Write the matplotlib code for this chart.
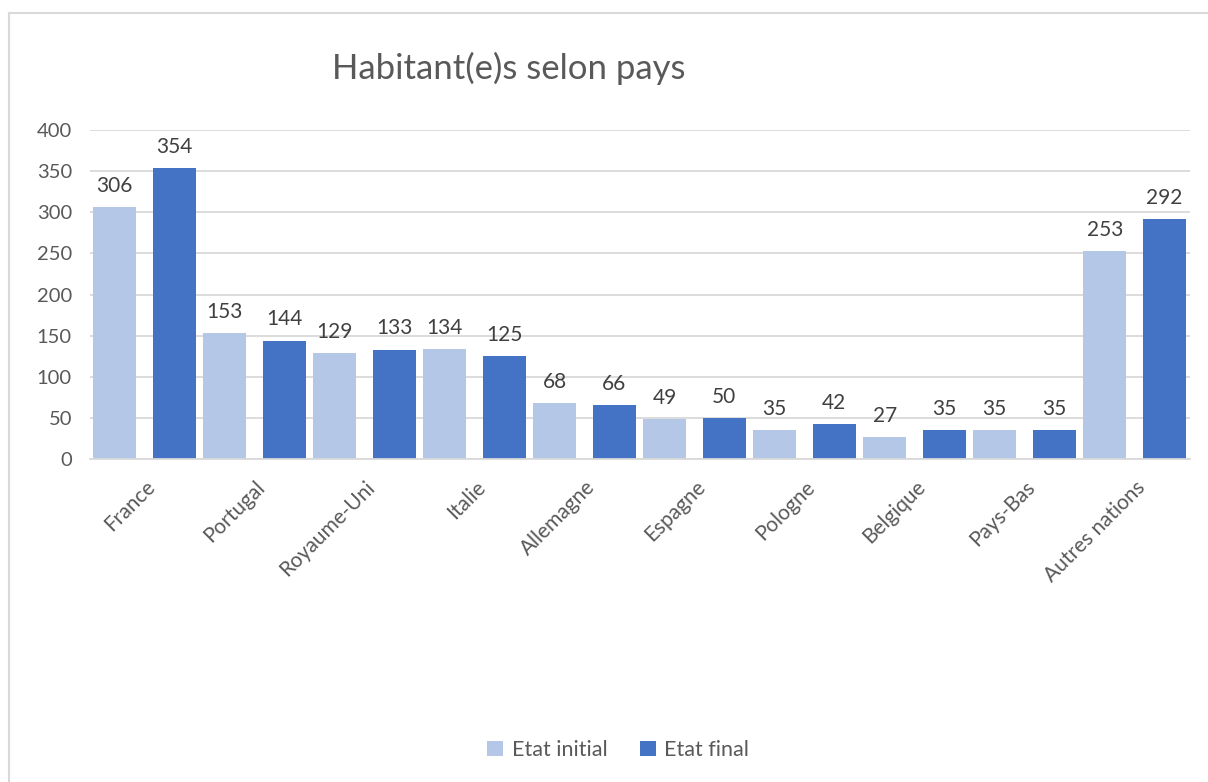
import matplotlib

matplotlib.use("Agg")
import matplotlib.pyplot as plt
from matplotlib.lines import Line2D
import numpy as np

countries = ["France", "Portugal", "Royaume-Uni", "Italie", "Allemagne",
             "Espagne", "Pologne", "Belgique", "Pays-Bas", "Autres nations"]
etat_initial = [306, 153, 129, 134, 68, 49, 35, 27, 35, 253]
etat_final = [354, 144, 133, 125, 66, 50, 42, 35, 35, 292]
y_ticks = [0, 50, 100, 150, 200, 250, 300, 350, 400]

C_INIT = "#b4c7e7"
C_FINAL = "#4472c4"
GRID = "#d9d9d9"
TXT = "#595959"

plt.rcParams["font.family"] = ["Lato", "DejaVu Sans"]

W, H = 1208, 782
fig = plt.figure(figsize=(W / 100, H / 100), dpi=100)
ax = fig.add_axes([90 / W, 1 - 459 / H, 1100 / W, 329 / H])

x = np.arange(len(countries))
width = 0.39
b1 = ax.bar(x - 0.275, etat_initial, width, color=C_INIT, label="Etat initial", zorder=2)
b2 = ax.bar(x + 0.265, etat_final, width, color=C_FINAL, label="Etat final", zorder=2)

for bars, vals in ((b1, etat_initial), (b2, etat_final)):
    for bar, v in zip(bars, vals):
        ax.annotate(f"{v}", (bar.get_x() + bar.get_width() / 2, v),
                    xytext=(0, 8), textcoords="offset points",
                    ha="center", va="bottom", fontsize=15, color="#404040")

ax.set_xlim(-0.5, len(countries) - 0.5)
ax.set_ylim(0, 400)
ax.set_yticks(y_ticks)
ax.set_xticks(x)
ax.set_xticklabels(countries, rotation=45, ha="right", rotation_mode="anchor")
ax.tick_params(axis="both", length=0, labelsize=14.5, labelcolor=TXT)
ax.tick_params(axis="y", pad=13)
ax.tick_params(axis="x", labelsize=15, pad=13)
ax.grid(axis="y", color=GRID, linewidth=1.3, zorder=0)
for s in ("top", "right", "left"):
    ax.spines[s].set_visible(False)
ax.spines["bottom"].set_color(GRID)
ax.spines["bottom"].set_linewidth(1.3)

fig.text(509 / W, 1 - 68 / H, "Habitant(e)s selon pays", ha="center", va="center",
         fontsize=25, color=TXT)

fig.legend(handles=[b1, b2], labels=["Etat initial", "Etat final"], loc="center",
           bbox_to_anchor=(618 / W, 1 - 750 / H), ncol=2, frameon=False,
           fontsize=15.5, labelcolor=TXT, handlelength=0.75, handleheight=0.75,
           handletextpad=0.4, columnspacing=1.5)

# chart area border (left and top visible)
fig.add_artist(Line2D([8.5 / W, 8.5 / W], [0, 1 - 13 / H], color=GRID, linewidth=1.5))
fig.add_artist(Line2D([8.5 / W, 1], [1 - 13 / H, 1 - 13 / H], color=GRID, linewidth=1.5))

fig.savefig("out.png", dpi=100)
